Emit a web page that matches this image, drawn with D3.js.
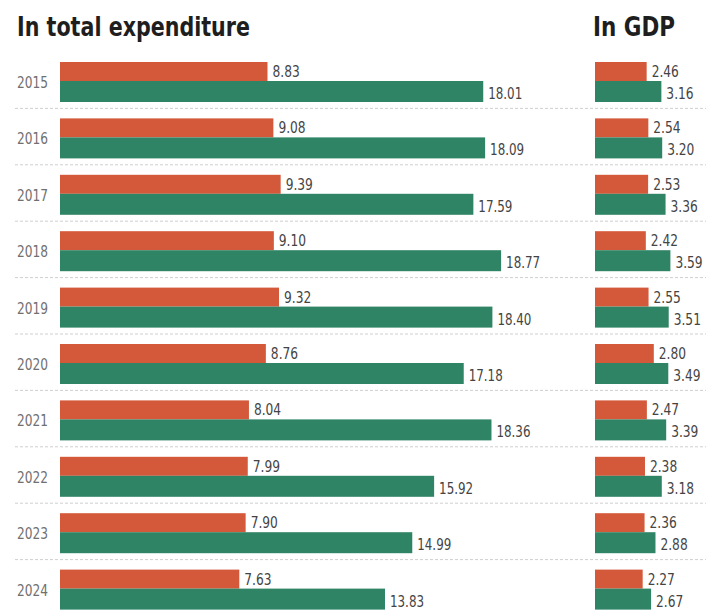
<!DOCTYPE html>
<html>
<head>
<meta charset="utf-8">
<script src="https://cdn.jsdelivr.net/npm/d3@7"></script>
<style>
  html, body { margin: 0; padding: 0; background: #fff; }
  svg { display: block; }
  .num { font-family: "DejaVu Sans Condensed", "Liberation Sans Narrow", "Roboto", sans-serif; font-stretch: condensed; }
  .ttl { font-family: "DejaVu Sans Condensed", "Liberation Sans Narrow", "Roboto", sans-serif; font-stretch: condensed; font-weight: bold; }
</style>
</head>
<body>
<script>
// Yearly shares: spending in total expenditure and in GDP (%)
const years = ["2015", "2016", "2017", "2018", "2019", "2020", "2021", "2022", "2023", "2024"];
const expRed   = [8.83, 9.08, 9.39, 9.10, 9.32, 8.76, 8.04, 7.99, 7.90, 7.63];
const expGreen = [18.01, 18.09, 17.59, 18.77, 18.40, 17.18, 18.36, 15.92, 14.99, 13.83];
const gdpRed   = [2.46, 2.54, 2.53, 2.42, 2.55, 2.80, 2.47, 2.38, 2.36, 2.27];
const gdpGreen = [3.16, 3.20, 3.36, 3.59, 3.51, 3.49, 3.39, 3.18, 2.88, 2.67];
const panelTitles = ["In total expenditure", "In GDP"];

const W = 706, H = 616;
const RED = "#d4593a", GREEN = "#2e8465";

const svg = d3.select("body").append("svg").attr("width", W).attr("height", H);

const y = d3.scaleBand().domain(years).range([56, 620]);
const xExp = d3.scaleLinear().domain([0, 20]).range([60, 530]);
const xGdp = d3.scaleLinear().domain([0, 4]).range([595, 679]);

// narrow numerals: fixed advance per character
const narrow = s => s.length * 6.8;

// titles
svg.append("text").attr("class", "ttl").attr("x", 17).attr("y", 36)
  .attr("font-size", 26).attr("fill", "#1e1e1e")
  .attr("textLength", 233).attr("lengthAdjust", "spacingAndGlyphs")
  .text(panelTitles[0]);
svg.append("text").attr("class", "ttl").attr("x", 593).attr("y", 36)
  .attr("font-size", 26).attr("fill", "#1e1e1e")
  .attr("textLength", 82).attr("lengthAdjust", "spacingAndGlyphs")
  .text(panelTitles[1]);

// row separators
svg.append("g").selectAll("line").data(years.slice(0, -1)).join("line")
  .attr("x1", 15).attr("x2", W)
  .attr("y1", d => y(d) + y.bandwidth() - 4)
  .attr("y2", d => y(d) + y.bandwidth() - 4)
  .attr("stroke", "#cfcfcf").attr("stroke-width", 1)
  .attr("stroke-dasharray", "3,2");

// year labels
svg.append("g").selectAll("text").data(years).join("text")
  .attr("class", "num").attr("x", 17).attr("y", d => y(d) + 32)
  .attr("font-size", 15).attr("fill", "#707070")
  .attr("textLength", 31).attr("lengthAdjust", "spacingAndGlyphs")
  .text(d => d);

function panel(x, red, green) {
  const g = svg.append("g");
  g.selectAll("rect.r").data(years).join("rect").attr("class", "r")
    .attr("x", x(0)).attr("y", d => y(d) + 6)
    .attr("width", (d, i) => x(red[i]) - x(0)).attr("height", 19)
    .attr("fill", RED);
  g.selectAll("rect.g").data(years).join("rect").attr("class", "g")
    .attr("x", x(0)).attr("y", d => y(d) + 25)
    .attr("width", (d, i) => x(green[i]) - x(0)).attr("height", 21)
    .attr("fill", GREEN);
  g.selectAll("text.r").data(years).join("text").attr("class", "num r")
    .attr("x", (d, i) => x(red[i]) + 5).attr("y", d => y(d) + 21)
    .attr("font-size", 16).attr("fill", "#444")
    .attr("textLength", (d, i) => narrow(red[i].toFixed(2)))
    .attr("lengthAdjust", "spacingAndGlyphs")
    .text((d, i) => red[i].toFixed(2));
  g.selectAll("text.g").data(years).join("text").attr("class", "num g")
    .attr("x", (d, i) => x(green[i]) + 5).attr("y", d => y(d) + 43)
    .attr("font-size", 16).attr("fill", "#444")
    .attr("textLength", (d, i) => narrow(green[i].toFixed(2)))
    .attr("lengthAdjust", "spacingAndGlyphs")
    .text((d, i) => green[i].toFixed(2));
}

panel(xExp, expRed, expGreen);
panel(xGdp, gdpRed, gdpGreen);
</script>
</body>
</html>
